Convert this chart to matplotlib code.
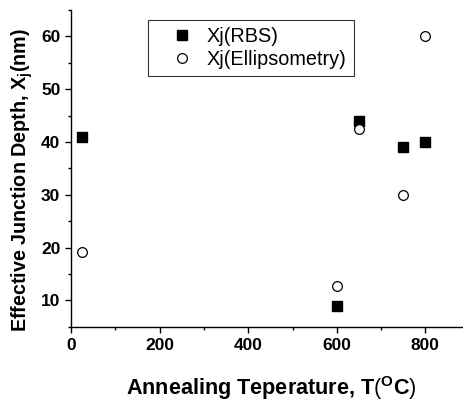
import matplotlib
matplotlib.use("Agg")
import matplotlib.pyplot as plt
from matplotlib.ticker import MultipleLocator

plt.rcParams['font.family'] = ['Liberation Sans', 'DejaVu Sans']
plt.rcParams['mathtext.fontset'] = 'custom'
plt.rcParams['mathtext.rm'] = 'Liberation Sans'
plt.rcParams['mathtext.bf'] = 'Liberation Sans:bold'

# values
temp_rbs = [25, 600, 650, 750, 800]
xj_rbs = [41, 9, 44, 39, 40]
temp_ell = [25, 600, 650, 750, 800]
xj_ell = [19.2, 12.8, 42.5, 30, 60]

fig = plt.figure(figsize=(4.64, 4.04), dpi=100)
ax = fig.add_axes([0.153, 0.191, 0.845, 0.784])

ax.plot(temp_rbs, xj_rbs, 's', color='black', markersize=6.7, label='Xj(RBS)')
ax.plot(temp_ell, xj_ell, 'o', markerfacecolor='white', markeredgecolor='black',
        markeredgewidth=0.9, markersize=7, label='Xj(Ellipsometry)')

ax.set_xlim(0, 885)
ax.set_ylim(5, 65)
ax.xaxis.set_major_locator(MultipleLocator(200))
ax.xaxis.set_minor_locator(MultipleLocator(100))
ax.yaxis.set_minor_locator(MultipleLocator(5))
ax.set_yticks([10, 20, 30, 40, 50, 60])

for s in ['top', 'right']:
    ax.spines[s].set_visible(False)
for s in ['left', 'bottom']:
    ax.spines[s].set_linewidth(1.0)

ax.tick_params(which='major', direction='out', length=4.5, width=1,
               labelsize=12.5, pad=3.2)
ax.tick_params(which='minor', direction='out', length=2.5, width=1)
for lab in ax.get_xticklabels() + ax.get_yticklabels():
    lab.set_fontweight('bold')

ax.set_xlabel(r'Annealing Teperature, T$\mathrm{(}\mathbf{^{O}}$C$\mathrm{)}$',
              fontsize=15.6, fontweight='bold')
ax.set_ylabel(r'Effective Junction Depth, X$_\mathbf{j}$(nm)', fontsize=14.2,
              fontweight='bold')
ax.xaxis.set_label_coords(0.51, -0.15)
ax.yaxis.set_label_coords(-0.093, 0.462)

leg = ax.legend(loc='upper left', bbox_to_anchor=(148 / 464, 1 - 20 / 404),
                bbox_transform=fig.transFigure, borderaxespad=0, fontsize=14.3,
                frameon=True, fancybox=False, edgecolor='black',
                handlelength=2.7, handletextpad=-0.1, borderpad=0.36,
                labelspacing=0.18)
leg.get_frame().set_linewidth(0.8)

fig.savefig('out.png', dpi=100)
